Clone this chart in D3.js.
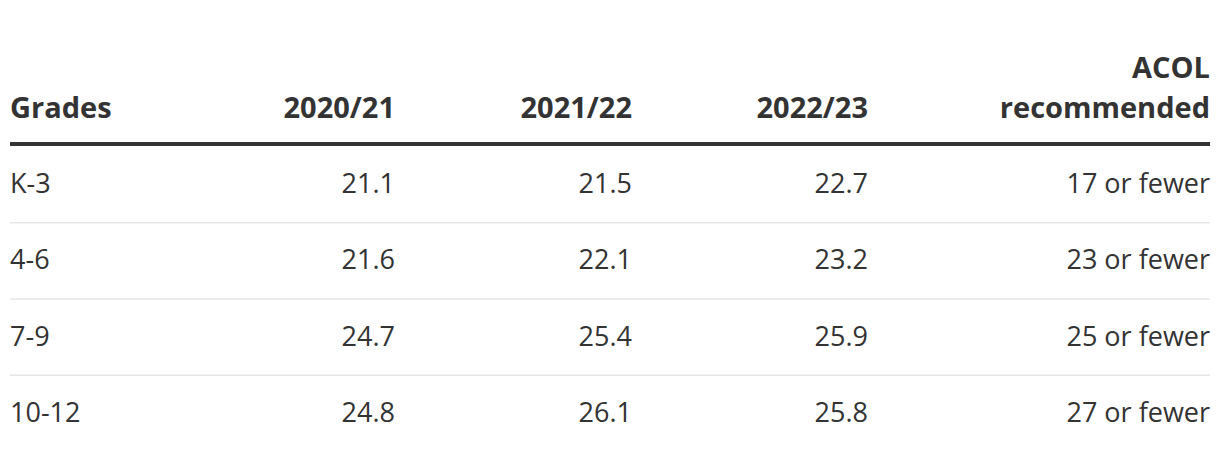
<!DOCTYPE html>
<html>
<head>
<meta charset="utf-8">
<script src="https://cdn.jsdelivr.net/npm/d3@7"></script>
<style>
    body { margin: 0; background: #fff; }
    text { font-family: "Open Sans", "Noto Sans", sans-serif; fill: #333; }
</style>
</head>
<body>
<div id="chart"></div>
<script>
const grades = ["K-3", "4-6", "7-9", "10-12"];
const years = ["2020/21", "2021/22", "2022/23"];
const size2020 = [21.1, 21.6, 24.7, 24.8];
const size2021 = [21.5, 22.1, 25.4, 26.1];
const size2022 = [22.7, 23.2, 25.9, 25.8];
const acolRecommended = ["17 or fewer", "23 or fewer", "25 or fewer", "27 or fewer"];

const width = 1220, height = 458;
const left = 10, right = 1210;

const svg = d3.select("#chart")
    .append("svg")
    .attr("width", width)
    .attr("height", height);

// column right edges, widths from the layout
const colWidths = [148, 237, 237, 236, 342];
const colKeys = ["grades", ...years, "acol"];
let acc = left;
const colRight = d3.scaleOrdinal()
    .domain(colKeys)
    .range(colWidths.map(w => (acc += w)));

const y = d3.scaleBand()
    .domain(grades)
    .range([146, 451])
    .padding(0);

// header
const head = svg.append("g").attr("font-weight", 700).attr("font-size", 29);
head.append("text").attr("x", left).attr("y", 118).text("Grades");
years.forEach(yr => {
    head.append("text")
        .attr("x", colRight(yr))
        .attr("y", 118)
        .attr("text-anchor", "end")
        .text(yr);
});
head.append("text")
    .attr("x", colRight("acol")).attr("y", 78)
    .attr("text-anchor", "end").text("ACOL");
head.append("text")
    .attr("x", colRight("acol")).attr("y", 118)
    .attr("text-anchor", "end").text("recommended");

svg.append("rect")
    .attr("x", left).attr("y", 142)
    .attr("width", right - left).attr("height", 4)
    .attr("fill", "#333");

// row separators
svg.append("g")
    .selectAll("line")
    .data(grades.slice(1))
    .join("line")
    .attr("x1", left).attr("x2", right)
    .attr("y1", d => y(d) + 0.5).attr("y2", d => y(d) + 0.5)
    .attr("stroke", "#e6e6e6")
    .attr("stroke-width", 1.5);

const rows = grades.map((g, i) => ({
    grade: g,
    cells: [
        { key: "2020/21", v: size2020[i].toFixed(1) },
        { key: "2021/22", v: size2021[i].toFixed(1) },
        { key: "2022/23", v: size2022[i].toFixed(1) },
        { key: "acol", v: acolRecommended[i] }
    ]
}));

const row = svg.append("g")
    .attr("font-size", 27)
    .selectAll("g")
    .data(rows)
    .join("g")
    .attr("transform", d => `translate(0,${y(d.grade) + 47})`);

row.append("text")
    .attr("x", left)
    .text(d => d.grade);

row.selectAll("text.cell")
    .data(d => d.cells)
    .join("text")
    .attr("class", "cell")
    .attr("x", d => colRight(d.key))
    .attr("text-anchor", "end")
    .text(d => d.v);
</script>
</body>
</html>
